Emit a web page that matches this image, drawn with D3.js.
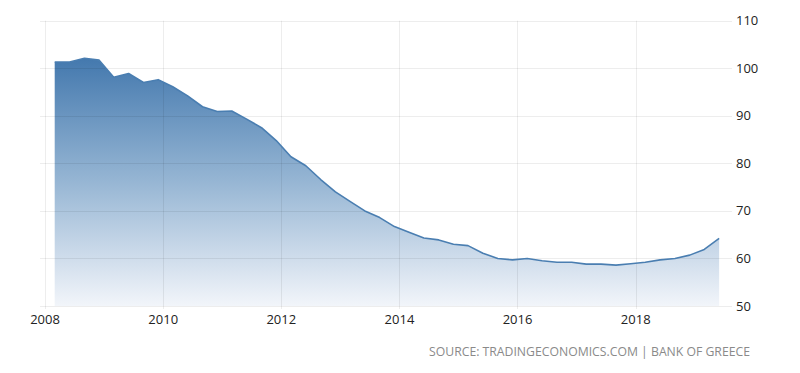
<!DOCTYPE html>
<html><head><meta charset="utf-8">
<script src="https://cdn.jsdelivr.net/npm/d3@7"></script>
<style>
html,body{margin:0;padding:0;background:#fff;}
svg{display:block;font-family:"Open Sans","DejaVu Sans",sans-serif;}
</style></head>
<body>
<svg id="chart" width="800" height="373"></svg>
<script>
// Quarterly values (quarter-end months), 2008 Q1 .. 2019 Q2
const startYear = 2008;
const values = [101.3,101.3,102.1,101.7,98.1,98.9,97.0,97.6,96.1,94.2,91.9,90.9,91.0,89.3,87.5,84.8,81.4,79.5,76.6,74.0,72.0,70.0,68.6,66.7,65.5,64.3,63.9,63.0,62.7,61.1,60.0,59.7,60.0,59.5,59.2,59.2,58.8,58.8,58.6,58.9,59.2,59.7,60.0,60.7,61.9,64.2];
const xTickYears = [2008,2010,2012,2014,2016,2018];
const yTicks = [50,60,70,80,90,100,110];
const sourceText = "SOURCE: TRADINGECONOMICS.COM | BANK OF GREECE";

const data = values.map((v,i)=>({date:new Date(startYear + Math.floor(i/4), (i%4)*3+2, 1), value:v}));

const svg = d3.select("#chart");
const x = d3.scaleTime().domain([new Date(2008,0,1), new Date(2018,0,1)]).range([45, 635.7]);
const y = d3.scaleLinear().domain([50,110]).range([306, 20.7]);

// gradient
const defs = svg.append("defs");
const grad = defs.append("linearGradient").attr("id","g").attr("gradientUnits","userSpaceOnUse")
  .attr("x1",0).attr("x2",0).attr("y1",y(102)).attr("y2",y(50));
grad.append("stop").attr("offset","0%").attr("stop-color","#4479ae");
grad.append("stop").attr("offset","50%").attr("stop-color","#97b6d4");
grad.append("stop").attr("offset","100%").attr("stop-color","#f2f5fa");

// area
const area = d3.area().x(d=>x(d.date)).y0(y(50)).y1(d=>y(d.value));
const line = d3.line().x(d=>x(d.date)).y(d=>y(d.value));
svg.append("path").datum(data).attr("d",area).attr("fill","url(#g)");

// horizontal grid (drawn over the area, semi-transparent)
svg.append("g").selectAll("line").data(yTicks).join("line")
  .attr("x1",40).attr("x2",732).attr("y1",d=>Math.round(y(d))+0.5).attr("y2",d=>Math.round(y(d))+0.5)
  .attr("stroke","rgba(0,0,0,0.07)").attr("stroke-width",1);
// vertical grid
svg.append("g").selectAll("line").data(xTickYears).join("line")
  .attr("x1",d=>Math.round(x(new Date(d,0,1)))+0.5).attr("x2",d=>Math.round(x(new Date(d,0,1)))+0.5)
  .attr("y1",y(110)).attr("y2",309)
  .attr("stroke","rgba(0,0,0,0.07)").attr("stroke-width",1);

// line
svg.append("path").datum(data).attr("d",line).attr("fill","none").attr("stroke","#4a7eb1").attr("stroke-width",1.6).attr("stroke-linejoin","round");

// y labels
svg.append("g").selectAll("text").data(yTicks).join("text")
  .attr("x",736).attr("y",d=>y(d)).attr("dy","0.35em")
  .attr("font-size",13).attr("fill","#222").text(d=>d);
// x labels
svg.append("g").selectAll("text").data(xTickYears).join("text")
  .attr("x",d=>x(new Date(d,0,1))).attr("y",319).attr("dy","0.35em").attr("text-anchor","middle")
  .attr("font-size",13).attr("fill","#222").text(d=>d);

// source
svg.append("text").attr("x",750).attr("y",352).attr("dy","0.35em").attr("text-anchor","end")
  .attr("font-size",12.5).attr("fill","#8a8a8a").attr("textLength",321).attr("lengthAdjust","spacingAndGlyphs").text(sourceText);
</script>
</body></html>
